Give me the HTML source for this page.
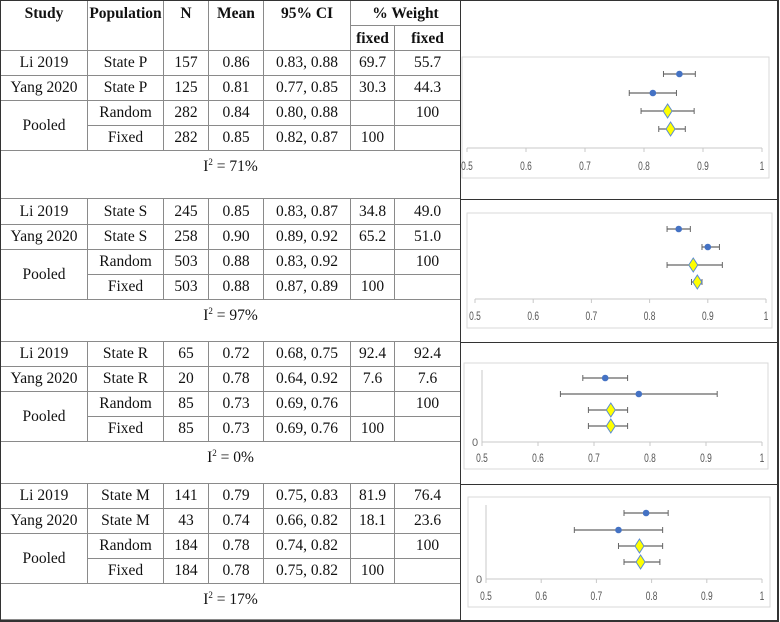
<!DOCTYPE html>
<html><head><meta charset="utf-8"><style>
body{margin:0;width:780px;height:622px;overflow:hidden;background:#fff;position:relative;font-family:"Liberation Serif",serif;}
table{position:absolute;left:0;top:0;width:461px;border-collapse:collapse;table-layout:fixed;font-size:15.5px;color:#111;}
td,th{border:1px solid #8a8a8a;text-align:center;padding:0;height:24px;line-height:18px;}
th{font-weight:bold;vertical-align:top;padding-top:3px;height:21px;line-height:20px}
td.i2{vertical-align:top;padding-top:2px;border-left:1px solid #333}
td.i2 sup{font-size:9px}
td:first-child,th:first-child{border-left:1px solid #333}
.frame{position:absolute;background:#333}
svg{position:absolute;left:0;top:0}
</style></head><body>
<table>
<colgroup><col style="width:87px"><col style="width:76px"><col style="width:45px"><col style="width:55px"><col style="width:87px"><col style="width:44px"><col style="width:66px"></colgroup>
<tr style="height:25px"><th rowspan="2">Study</th><th rowspan="2">Population</th><th rowspan="2">N</th><th rowspan="2">Mean</th><th rowspan="2">95% CI</th><th colspan="2">% Weight</th></tr>
<tr style="height:25px"><th>fixed</th><th>fixed</th></tr>

<tr style="height:25px"><td>Li 2019</td><td>State P</td><td>157</td><td>0.86</td><td>0.83, 0.88</td><td>69.7</td><td>55.7</td></tr>
<tr style="height:25px"><td>Yang 2020</td><td>State P</td><td>125</td><td>0.81</td><td>0.77, 0.85</td><td>30.3</td><td>44.3</td></tr>
<tr style="height:25px"><td rowspan="2">Pooled</td><td>Random</td><td>282</td><td>0.84</td><td>0.80, 0.88</td><td></td><td>100</td></tr>
<tr style="height:25px"><td>Fixed</td><td>282</td><td>0.85</td><td>0.82, 0.87</td><td>100</td><td></td></tr>
<tr style="height:48px"><td colspan="7" class="i2">I<sup>2</sup> = 71%</td></tr>

<tr style="height:26px"><td>Li 2019</td><td>State S</td><td>245</td><td>0.85</td><td>0.83, 0.87</td><td>34.8</td><td>49.0</td></tr>
<tr style="height:25px"><td>Yang 2020</td><td>State S</td><td>258</td><td>0.90</td><td>0.89, 0.92</td><td>65.2</td><td>51.0</td></tr>
<tr style="height:25px"><td rowspan="2">Pooled</td><td>Random</td><td>503</td><td>0.88</td><td>0.83, 0.92</td><td></td><td>100</td></tr>
<tr style="height:25px"><td>Fixed</td><td>503</td><td>0.88</td><td>0.87, 0.89</td><td>100</td><td></td></tr>
<tr style="height:42px"><td colspan="7" class="i2">I<sup>2</sup> = 97%</td></tr>

<tr style="height:25px"><td>Li 2019</td><td>State R</td><td>65</td><td>0.72</td><td>0.68, 0.75</td><td>92.4</td><td>92.4</td></tr>
<tr style="height:25px"><td>Yang 2020</td><td>State R</td><td>20</td><td>0.78</td><td>0.64, 0.92</td><td>7.6</td><td>7.6</td></tr>
<tr style="height:25px"><td rowspan="2">Pooled</td><td>Random</td><td>85</td><td>0.73</td><td>0.69, 0.76</td><td></td><td>100</td></tr>
<tr style="height:25px"><td>Fixed</td><td>85</td><td>0.73</td><td>0.69, 0.76</td><td>100</td><td></td></tr>
<tr style="height:42px"><td colspan="7" class="i2">I<sup>2</sup> = 0%</td></tr>

<tr style="height:25px"><td>Li 2019</td><td>State M</td><td>141</td><td>0.79</td><td>0.75, 0.83</td><td>81.9</td><td>76.4</td></tr>
<tr style="height:25px"><td>Yang 2020</td><td>State M</td><td>43</td><td>0.74</td><td>0.66, 0.82</td><td>18.1</td><td>23.6</td></tr>
<tr style="height:25px"><td rowspan="2">Pooled</td><td>Random</td><td>184</td><td>0.78</td><td>0.74, 0.82</td><td></td><td>100</td></tr>
<tr style="height:25px"><td>Fixed</td><td>184</td><td>0.78</td><td>0.75, 0.82</td><td>100</td><td></td></tr>
<tr style="height:36px"><td colspan="7" class="i2">I<sup>2</sup> = 17%</td></tr>
</table>
<div class="frame" style="left:0;top:0;width:779px;height:1px"></div>
<div class="frame" style="left:0;top:620px;width:779px;height:2px"></div>
<div class="frame" style="left:777px;top:0;width:2px;height:622px"></div>
<div class="frame" style="left:0;top:0;width:1px;height:622px"></div>
<div class="frame" style="left:460px;top:0;width:1px;height:622px"></div>
<div class="frame" style="left:460px;top:199px;width:318px;height:1px"></div>
<div class="frame" style="left:460px;top:342px;width:318px;height:1px"></div>
<div class="frame" style="left:460px;top:484px;width:318px;height:1px"></div>
<svg id="plots" width="780" height="622"></svg>
<script>
// data per panel: [Li 2019, Yang 2020, Random, Fixed]
const panels = ["state-p","state-s","state-r","state-m"];
const means = [[0.86,0.815,0.84,0.845],[0.85,0.90,0.875,0.882],[0.72,0.78,0.73,0.73],[0.79,0.74,0.778,0.78]];
const lows = [[0.833,0.775,0.795,0.825],[0.83,0.89,0.83,0.872],[0.68,0.64,0.69,0.69],[0.75,0.66,0.74,0.75]];
const highs = [[0.887,0.855,0.885,0.87],[0.87,0.92,0.925,0.89],[0.76,0.92,0.76,0.76],[0.83,0.82,0.82,0.815]];
const tickLabels = ["0.5","0.6","0.7","0.8","0.9","1"];
const tickValues = [0.5,0.6,0.7,0.8,0.9,1];
// layout geometry
const geo = [
 {bx:462,by:57,bw:307,bh:121,x0:467,x1:762,ay:148,ly:170,rows:[74,93,111,129],yaxis:false},
 {bx:467,by:213,bw:305,bh:115,x0:475,x1:766,ay:299,ly:320,rows:[229,247,265,282],yaxis:false},
 {bx:464,by:363,bw:304,bh:106,x0:482,x1:762,ay:442,ly:462,rows:[378,394,410,426],yaxis:true,yt:370},
 {bx:468,by:497,bw:302,bh:110,x0:486,x1:762,ay:579,ly:600,rows:[513,530,546,562],yaxis:true,yt:505}
];
const NS="http://www.w3.org/2000/svg";
const svg=document.getElementById('plots');
function mk(t,a){const e=document.createElementNS(NS,t);for(const k in a)e.setAttribute(k,a[k]);svg.appendChild(e);return e;}
panels.forEach((p,pi)=>{
 const g=geo[pi];
 const sx=v=>g.x0+(v-0.5)/0.5*(g.x1-g.x0);
 const box=mk('rect',{x:g.bx,y:g.by,width:g.bw,height:g.bh,fill:'none',stroke:'#d9d9d9'});
 
 
 const ax=mk('line',{x1:sx(0.5),x2:sx(1),y1:g.ay,y2:g.ay,stroke:'#c8c8c8','stroke-width':1});
 
 
 if(g.yaxis){
  const ya=mk('line',{x1:sx(0.5),x2:sx(0.5),y1:g.yt,y2:g.ay,stroke:'#c8c8c8'});
  
  
  const z=mk('text',{x:sx(0.5)-10,y:g.ay+4,'font-size':11,fill:'#666','font-family':'Liberation Sans, sans-serif'});
  z.textContent='0';
  
  
 }
 tickValues.forEach((v,i)=>{
  mk('line',{x1:sx(v),x2:sx(v),y1:g.ay,y2:g.ay+4,stroke:'#c8c8c8'});
  const t=mk('text',{x:sx(v),y:g.ly,'font-size':12,fill:'#555','text-anchor':'middle','font-family':'Liberation Sans Narrow, Liberation Sans, sans-serif',transform:`translate(${sx(v)},0) scale(0.7,1) translate(${-sx(v)},0)`});
  t.textContent=tickLabels[i];
  
  
 });
 means[pi].forEach((m,ri)=>{
  const y=g.rows[ri];
  const l=mk('line',{x1:sx(lows[pi][ri]),x2:sx(highs[pi][ri]),y1:y,y2:y,stroke:'#666','stroke-width':1.3});
  
  
  mk('line',{x1:sx(lows[pi][ri]),x2:sx(lows[pi][ri]),y1:y-3,y2:y+3,stroke:'#666'});
  mk('line',{x1:sx(highs[pi][ri]),x2:sx(highs[pi][ri]),y1:y-3,y2:y+3,stroke:'#666'});
  const cx=sx(m);
  if(ri<2){
   const c=mk('circle',{cx:cx,cy:y,r:3.3,fill:'#4472c4'});
   
   
  }else{
   const d=mk('polygon',{points:`${cx},${y-7} ${cx+4.5},${y} ${cx},${y+7} ${cx-4.5},${y}`,fill:'#ffff00',stroke:'#5b8bd0','stroke-width':1});
   
   
  }
 });
});
</script>
</body></html>
